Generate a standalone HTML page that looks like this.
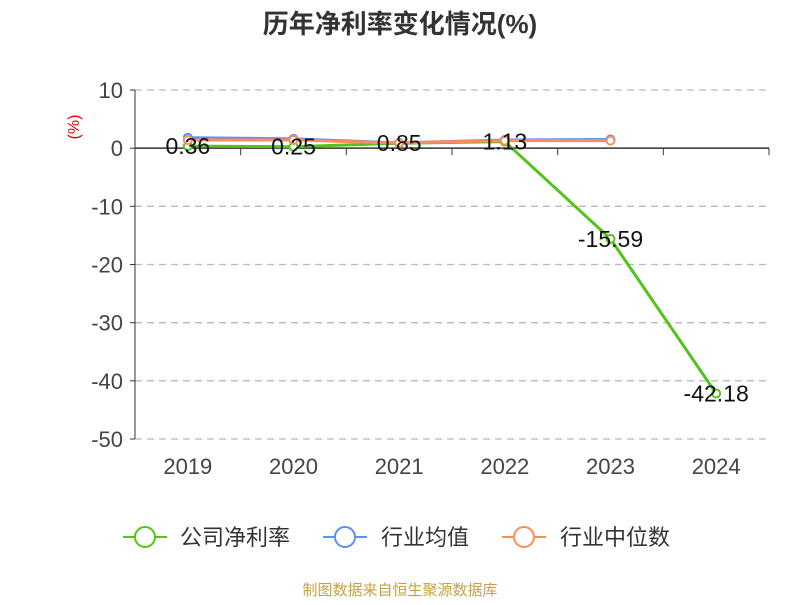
<!DOCTYPE html>
<html><head><meta charset="utf-8"><style>
body{margin:0;background:#fff;font-family:"Liberation Sans","Noto Sans CJK SC",sans-serif}
svg text{font-family:"Liberation Sans","Noto Sans CJK SC",sans-serif}
</style></head><body>
<svg id="c" width="800" height="600">
<text x="400" y="33" text-anchor="middle" font-size="26" font-weight="bold" fill="#333">历年净利率变化情况(%)</text>
<text x="79" y="127" text-anchor="middle" font-size="16" fill="#e00" transform="rotate(-90 79 127)">(%)</text>
<g id="grid"></g><g id="axes"></g><g id="series"></g>
<g font-size="22" fill="#333">
<g><line x1="123" y1="537" x2="167" y2="537" stroke="#52c41a" stroke-width="2"/><circle cx="145" cy="537" r="10" fill="#fff" stroke="#52c41a" stroke-width="2"/><text x="180" y="545">公司净利率</text></g>
<g><line x1="323" y1="537" x2="367" y2="537" stroke="#5b8ff9" stroke-width="2"/><circle cx="345" cy="537" r="10" fill="#fff" stroke="#5b8ff9" stroke-width="2"/><text x="381" y="545">行业均值</text></g>
<g><line x1="502" y1="537" x2="546" y2="537" stroke="#ff8c5a" stroke-width="2"/><circle cx="524" cy="537" r="10" fill="#fff" stroke="#ff8c5a" stroke-width="2"/><text x="560" y="545">行业中位数</text></g>
</g>
<text x="400" y="595" text-anchor="middle" font-size="15" fill="#c8a040">制图数据来自恒生聚源数据库</text>
</svg>
<script>
const categories=["2019","2020","2021","2022","2023","2024"];
const companyValues=[0.36,0.25,0.85,1.13,-15.59,-42.18];
const industryAvg=[1.8,1.6,0.9,1.4,1.5];
const industryMedian=[1.4,1.4,0.9,1.3,1.3];
const yTicks=[10,0,-10,-20,-30,-40,-50];
const NS="http://www.w3.org/2000/svg";
const x0=135,x1=769,yTop=90,yBot=439;
const bw=(x1-x0)/categories.length;
const xs=i=>x0+bw*(i+0.5);
const ys=v=>yTop+(10-v)*(yBot-yTop)/60;
function mk(t,a,p){const e=document.createElementNS(NS,t);for(const k in a)e.setAttribute(k,a[k]);p.appendChild(e);return e;}
const grid=document.getElementById('grid'),axes=document.getElementById('axes'),ser=document.getElementById('series');
yTicks.forEach(v=>{
 if(v!==0){const l=mk('line',{x1:x0,x2:x1,y1:ys(v),y2:ys(v),stroke:'#bbb','stroke-dasharray':'7,5','stroke-width':1.3},grid);
 
 }
 mk('line',{x1:x0-5,x2:x0,y1:ys(v),y2:ys(v),stroke:'#333'},axes);
 const t=mk('text',{x:x0-12,y:ys(v)+8,'text-anchor':'end','font-size':22,fill:'#444'},axes);t.textContent=v;
 
 
});
mk('line',{x1:x0,x2:x0,y1:yTop,y2:yBot,stroke:'#333'},axes);
mk('line',{x1:x0,x2:x1,y1:ys(0),y2:ys(0),stroke:'#333','stroke-width':1.5},axes);
for(let i=0;i<=categories.length;i++)mk('line',{x1:x0+bw*i,x2:x0+bw*i,y1:ys(0),y2:ys(0)+7,stroke:'#333'},axes);
categories.forEach((c,i)=>{const t=mk('text',{x:xs(i),y:474,'text-anchor':'middle','font-size':22,fill:'#444'},axes);t.textContent=c;
 
 });
function line(vals,col,name){
 const p=mk('polyline',{points:vals.map((v,i)=>xs(i)+','+ys(v)).join(' '),fill:'none',stroke:col,'stroke-width':3},ser);
 
 
 vals.forEach((v,i)=>{const c=mk('circle',{cx:xs(i),cy:ys(v),r:4,fill:'#fff',stroke:col,'stroke-width':2},ser);
 
 });
}
line(companyValues,'#52c41a','company');
line(industryAvg,'#5b8ff9','industry-avg');
line(industryMedian,'#ff8c5a','industry-median');
companyValues.forEach((v,i)=>{const t=mk('text',{x:xs(i),y:ys(v)+8,'text-anchor':'middle','font-size':23,fill:'#111'},ser);t.textContent=v.toFixed(2);
 
 });
</script>
</body></html>
